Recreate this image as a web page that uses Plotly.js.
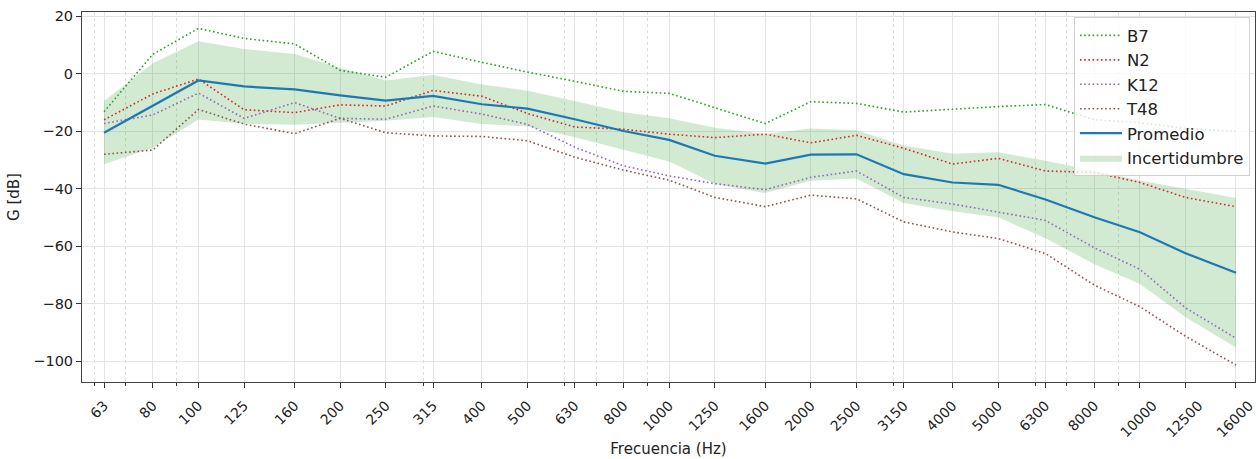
<!DOCTYPE html>
<html>
<head>
<meta charset="utf-8">
<script src="https://cdn.plot.ly/plotly-3.0.1.min.js"></script>
<style>
  html, body { margin: 0; padding: 0; background: #fff; }
  #chart { width: 1258px; height: 459px; }
</style>
</head>
<body>
<div id="chart"></div>
<script>
// Bandas de tercio de octava (Hz)
const freq = [63, 80, 100, 125, 160, 200, 250, 315, 400, 500, 630, 800, 1000,
              1250, 1600, 2000, 2500, 3150, 4000, 5000, 6300, 8000, 10000, 12500, 16000];
const freqLabels = freq.map(String);

// Ganancia G [dB] por posición
const b7  = [-13.2, 6.8, 15.8, 12.3, 10.4, 1.2, -1.2, 7.8, 4.0, 0.6, -2.6, -6.1, -6.8,
             -11.8, -17.3, -9.7, -10.3, -13.3, -12.2, -11.4, -10.7, -16.0, -17.0, -19.0, -20.0];
const n2  = [-16.0, -7.0, -1.8, -12.5, -13.5, -10.8, -11.2, -5.8, -7.8, -13.8, -18.5, -19.3, -21.0,
             -22.2, -21.0, -24.0, -21.4, -25.9, -31.4, -29.4, -33.8, -34.3, -37.8, -43.0, -46.2];
const k12 = [-17.3, -14.3, -6.7, -15.5, -10.0, -15.5, -15.8, -11.2, -14.0, -17.6, -25.5, -32.0, -35.5,
             -38.2, -40.3, -36.0, -33.8, -43.0, -45.3, -48.2, -51.0, -60.5, -68.0, -81.4, -92.0];
const t48 = [-28.0, -26.5, -12.4, -17.5, -20.8, -15.5, -20.5, -21.6, -21.8, -23.3, -29.0, -33.5, -37.0,
             -43.0, -46.2, -42.2, -43.5, -51.5, -55.0, -57.3, -62.5, -73.5, -81.0, -91.3, -101.3];
const promedio = [-20.5, -11.0, -2.3, -4.4, -5.4, -7.5, -9.3, -7.7, -10.6, -12.1, -15.8, -19.9, -23.0,
                  -28.5, -31.2, -28.1, -28.0, -34.9, -37.8, -38.6, -43.7, -49.9, -55.1, -62.4, -69.2];
// Semiancho de la banda de incertidumbre (dB)
const incert = [11.0, 14.7, 13.6, 13.0, 12.3, 9.5, 7.0, 7.3, 6.9, 6.2, 6.3, 6.5, 7.5,
                9.7, 10.3, 9.1, 8.4, 10.0, 10.0, 11.3, 13.5, 16.3, 18.0, 22.3, 26.0];

// Marcas menores del eje logarítmico (las que no coinciden con las bandas)
const minorTicks = [60, 70, 90, 300, 600, 700, 900, 3000, 6000, 7000, 9000];

const superior = promedio.map((m, i) => m + incert[i]);
const inferior = promedio.map((m, i) => m - incert[i]);

const dotted = (name, y, color, rank) => ({
  x: freq, y: y, name: name, type: 'scatter', mode: 'lines', legendrank: rank,
  line: { color: color, width: 1.6, dash: '1.6px,2.6px' }
});

const traces = [
  { x: freq, y: superior, type: 'scatter', mode: 'lines', line: { width: 0 },
    showlegend: false, hoverinfo: 'skip', legendrank: 7 },
  { x: freq, y: inferior, type: 'scatter', mode: 'lines', line: { width: 0 },
    fill: 'tonexty', fillcolor: 'rgba(44,160,44,0.22)', name: 'Incertidumbre', legendrank: 6 },
  dotted('B7', b7, '#2ca02c', 1),
  dotted('N2', n2, '#d62728', 2),
  dotted('K12', k12, '#9467bd', 3),
  dotted('T48', t48, '#8c564b', 4),
  { x: freq, y: promedio, name: 'Promedio', type: 'scatter', mode: 'lines',
    line: { color: '#1f77b4', width: 2.2 }, legendrank: 5 }
];

const font = 'DejaVu Sans, sans-serif';
const tickFont = { family: font, size: 14, color: '#222' };
const xRange = [1.7526, 4.2445];

// Rotated labels are centred under their tick: the shift grows with the label length,
// so labels of each length live on their own overlaid axis.
const labelAxes = {};
const lengths = [...new Set(freqLabels.map(s => s.length))];
lengths.forEach((n, k) => {
  const id = k + 2;
  const idx = freqLabels.map((s, i) => (s.length === n ? i : -1)).filter(i => i >= 0);
  const vals = idx.map(i => freq[i]);
  labelAxes['xaxis' + id] = {
    type: 'log', range: xRange, overlaying: 'x', anchor: 'y', side: 'bottom',
    tickmode: 'array', tickvals: vals, ticktext: idx.map(i => freqLabels[i]),
    tickangle: -45, ticklabelshift: 2.6 * n, ticklabelstandoff: 4,
    ticks: 'outside', ticklen: 5, tickcolor: 'rgba(0,0,0,0)',
    showgrid: false, showline: false, zeroline: false,
    tickfont: tickFont
  };
  // empty carrier trace so the label axis is laid out
  traces.push({ x: vals, y: vals.map(() => null), xaxis: 'x' + id, yaxis: 'y',
                type: 'scatter', mode: 'lines', showlegend: false, hoverinfo: 'skip' });
});

const layout = Object.assign({
  width: 1258, height: 459,
  margin: { l: 82, r: 3, t: 12, b: 77 },
  paper_bgcolor: '#ffffff', plot_bgcolor: '#ffffff',
  font: { family: font, size: 14, color: '#222' },
  showlegend: true,
  legend: {
    x: 0.9957, y: 0.986, xanchor: 'right', yanchor: 'top', traceorder: 'normal',
    bgcolor: 'rgba(255,255,255,0.8)', bordercolor: '#d0d0d0', borderwidth: 1,
    itemwidth: 42,
    font: { family: font, size: 16.5, color: '#222' }
  },
  xaxis: {
    type: 'log', range: xRange,
    tickmode: 'array', tickvals: freq, showticklabels: false,
    ticks: 'outside', ticklen: 5, tickwidth: 1, tickcolor: '#333',
    showgrid: true, gridcolor: '#e4e4e4', gridwidth: 1,
    minor: { tickvals: minorTicks, ticks: 'outside', ticklen: 3, tickcolor: '#333',
             showgrid: true, gridcolor: '#dcdcdc', griddash: '3px,3px', gridwidth: 1 },
    showline: true, linecolor: '#444', linewidth: 1, mirror: true,
    zeroline: false,
    title: { text: 'Frecuencia (Hz)', font: { family: font, size: 15, color: '#222' }, standoff: 56 }
  },
  yaxis: {
    range: [-107.2, 21.5],
    tickmode: 'array', tickvals: [-100, -80, -60, -40, -20, 0, 20],
    ticks: 'outside', ticklen: 5, tickwidth: 1, tickcolor: '#333',
    showgrid: true, gridcolor: '#e4e4e4', gridwidth: 1,
    showline: true, linecolor: '#444', linewidth: 1, mirror: true,
    zeroline: false,
    tickfont: { family: font, size: 14.5, color: '#222' },
    title: { text: 'G [dB]', font: { family: font, size: 15, color: '#222' }, standoff: 10 }
  }
}, labelAxes);

Plotly.newPlot('chart', traces, layout, { displayModeBar: false, staticPlot: true });
</script>
</body>
</html>
